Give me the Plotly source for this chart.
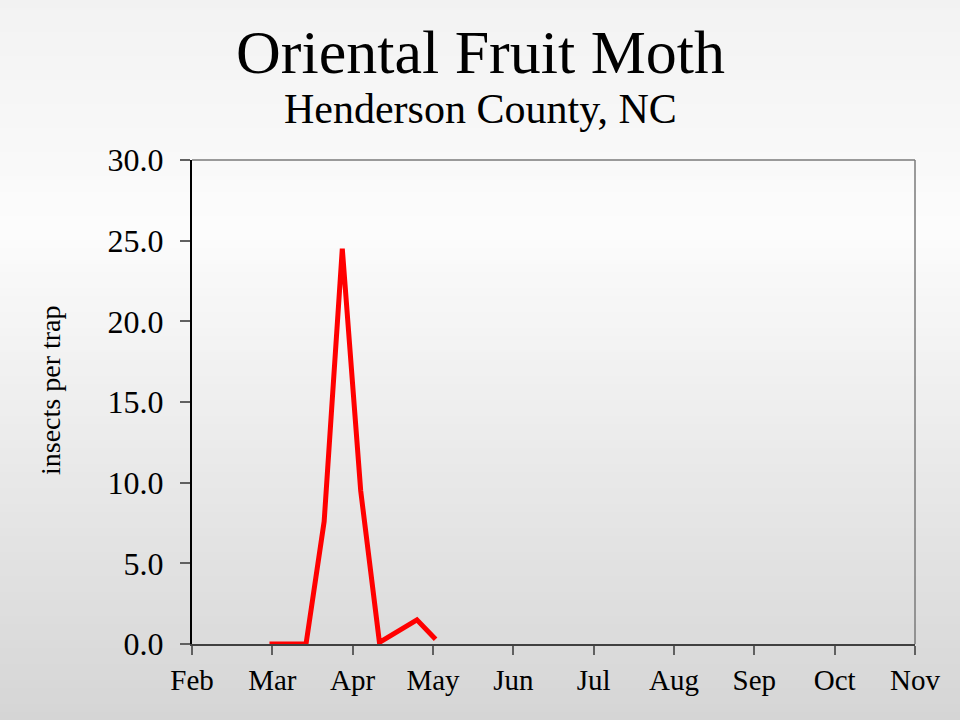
import plotly.graph_objects as go

# ---- data ----
months = ["Feb", "Mar", "Apr", "May", "Jun", "Jul", "Aug", "Sep", "Oct", "Nov"]
sample_month = [0, 1, 1, 1, 2, 2, 2, 3]          # index into months
sample_day = [28, 14, 21, 28, 4, 11, 25, 2]
month_days = [28, 31, 30, 31, 30, 31, 31, 30, 31, 30]
insects_per_trap = [0.0, 0.0, 7.6, 24.5, 9.5, 0.1, 1.5, 0.3]
y_ticks = [0, 5, 10, 15, 20, 25, 30]

# month-based (equal-width months) position of each sample date
x_pos = [m + (d - 1) / month_days[m] for m, d in zip(sample_month, sample_day)]

W, H = 960, 720
ml, mr, mt, mb = 192, 45, 160, 76

fig = go.Figure()
fig.add_trace(go.Scatter(
    x=x_pos, y=insects_per_trap, mode="lines",
    line=dict(color="#ff0000", width=5),
    hoverinfo="skip", showlegend=False, cliponaxis=False,
))

ph = H - mt - mb
pw = W - ml - mr
def py(pix):  # pixel from top -> paper y
    return (H - mb - pix) / ph
def px(pix):  # pixel from left -> paper x
    return (pix - ml) / pw
x0p = px(0)
x1p = px(W)

def col(pix):
    stops = [(0, 242), (230, 252), (720, 213)]
    for (a, ca), (b, cb) in zip(stops[:-1], stops[1:]):
        if a <= pix <= b:
            t = (pix - a) / (b - a)
            v = round(ca + (cb - ca) * t)
            return f"rgb({v},{v},{v})"
    return "rgb(213,213,213)"

shapes = []
step = 8
for p in range(0, H, step):
    shapes.append(dict(type="rect", xref="paper", yref="paper",
                       x0=x0p, x1=x1p, y0=py(p + step + 1), y1=py(p),
                       fillcolor=col(p + step / 2), line=dict(width=0), layer="below"))
# top and right gray border of plot area
shapes.append(dict(type="line", xref="paper", yref="paper", x0=0, x1=1, y0=1, y1=1,
                   line=dict(color="#9a9a9a", width=2), layer="above"))
shapes.append(dict(type="line", xref="paper", yref="paper", x0=1, x1=1, y0=0, y1=1,
                   line=dict(color="#7a7a7a", width=1.5), layer="above"))

font_family = "Liberation Serif, DejaVu Serif, serif"

fig.update_layout(
    width=W, height=H,
    margin=dict(l=ml, r=mr, t=mt, b=mb),
    paper_bgcolor="rgba(0,0,0,0)",
    plot_bgcolor="rgba(0,0,0,0)",
    shapes=shapes,
    font=dict(family=font_family, color="#000000"),
    xaxis=dict(
        range=[0, 9], tickmode="array", tickvals=list(range(len(months))), ticktext=months,
        showgrid=False, zeroline=False, showline=True, linecolor="#404040", linewidth=1.5,
        ticks="outside", ticklen=9, tickwidth=1.5, tickcolor="#606060",
        tickfont=dict(size=29, family=font_family), fixedrange=True,
    ),
    yaxis=dict(
        range=[0, 30], tickmode="array", tickvals=y_ticks,
        ticktext=[f"{v:.1f}" for v in y_ticks],
        showgrid=False, zeroline=False, showline=True, linecolor="#000000", linewidth=2,
        ticks="outside", ticklen=10, tickwidth=1.5, tickcolor="#606060",
        tickfont=dict(size=32, family=font_family), ticklabelstandoff=10,
        fixedrange=True,
    ),
    annotations=[
        dict(text="Oriental Fruit Moth", xref="paper", yref="paper", x=px(W / 2),
             y=py(52), xanchor="center", yanchor="middle", showarrow=False,
             font=dict(size=62, family=font_family)),
        dict(text="Henderson County, NC", xref="paper", yref="paper", x=px(W / 2),
             y=py(109), xanchor="center", yanchor="middle", showarrow=False,
             font=dict(size=42, family=font_family)),
        dict(text="insects per trap", xref="paper", yref="paper", x=px(50),
             y=py(390), xanchor="center", yanchor="middle", showarrow=False,
             textangle=-90, font=dict(size=28, family=font_family)),
    ],
)

fig.write_html("out.html", config={"displayModeBar": False},
               post_script="document.body.style.margin='0';document.body.style.padding='0';")
